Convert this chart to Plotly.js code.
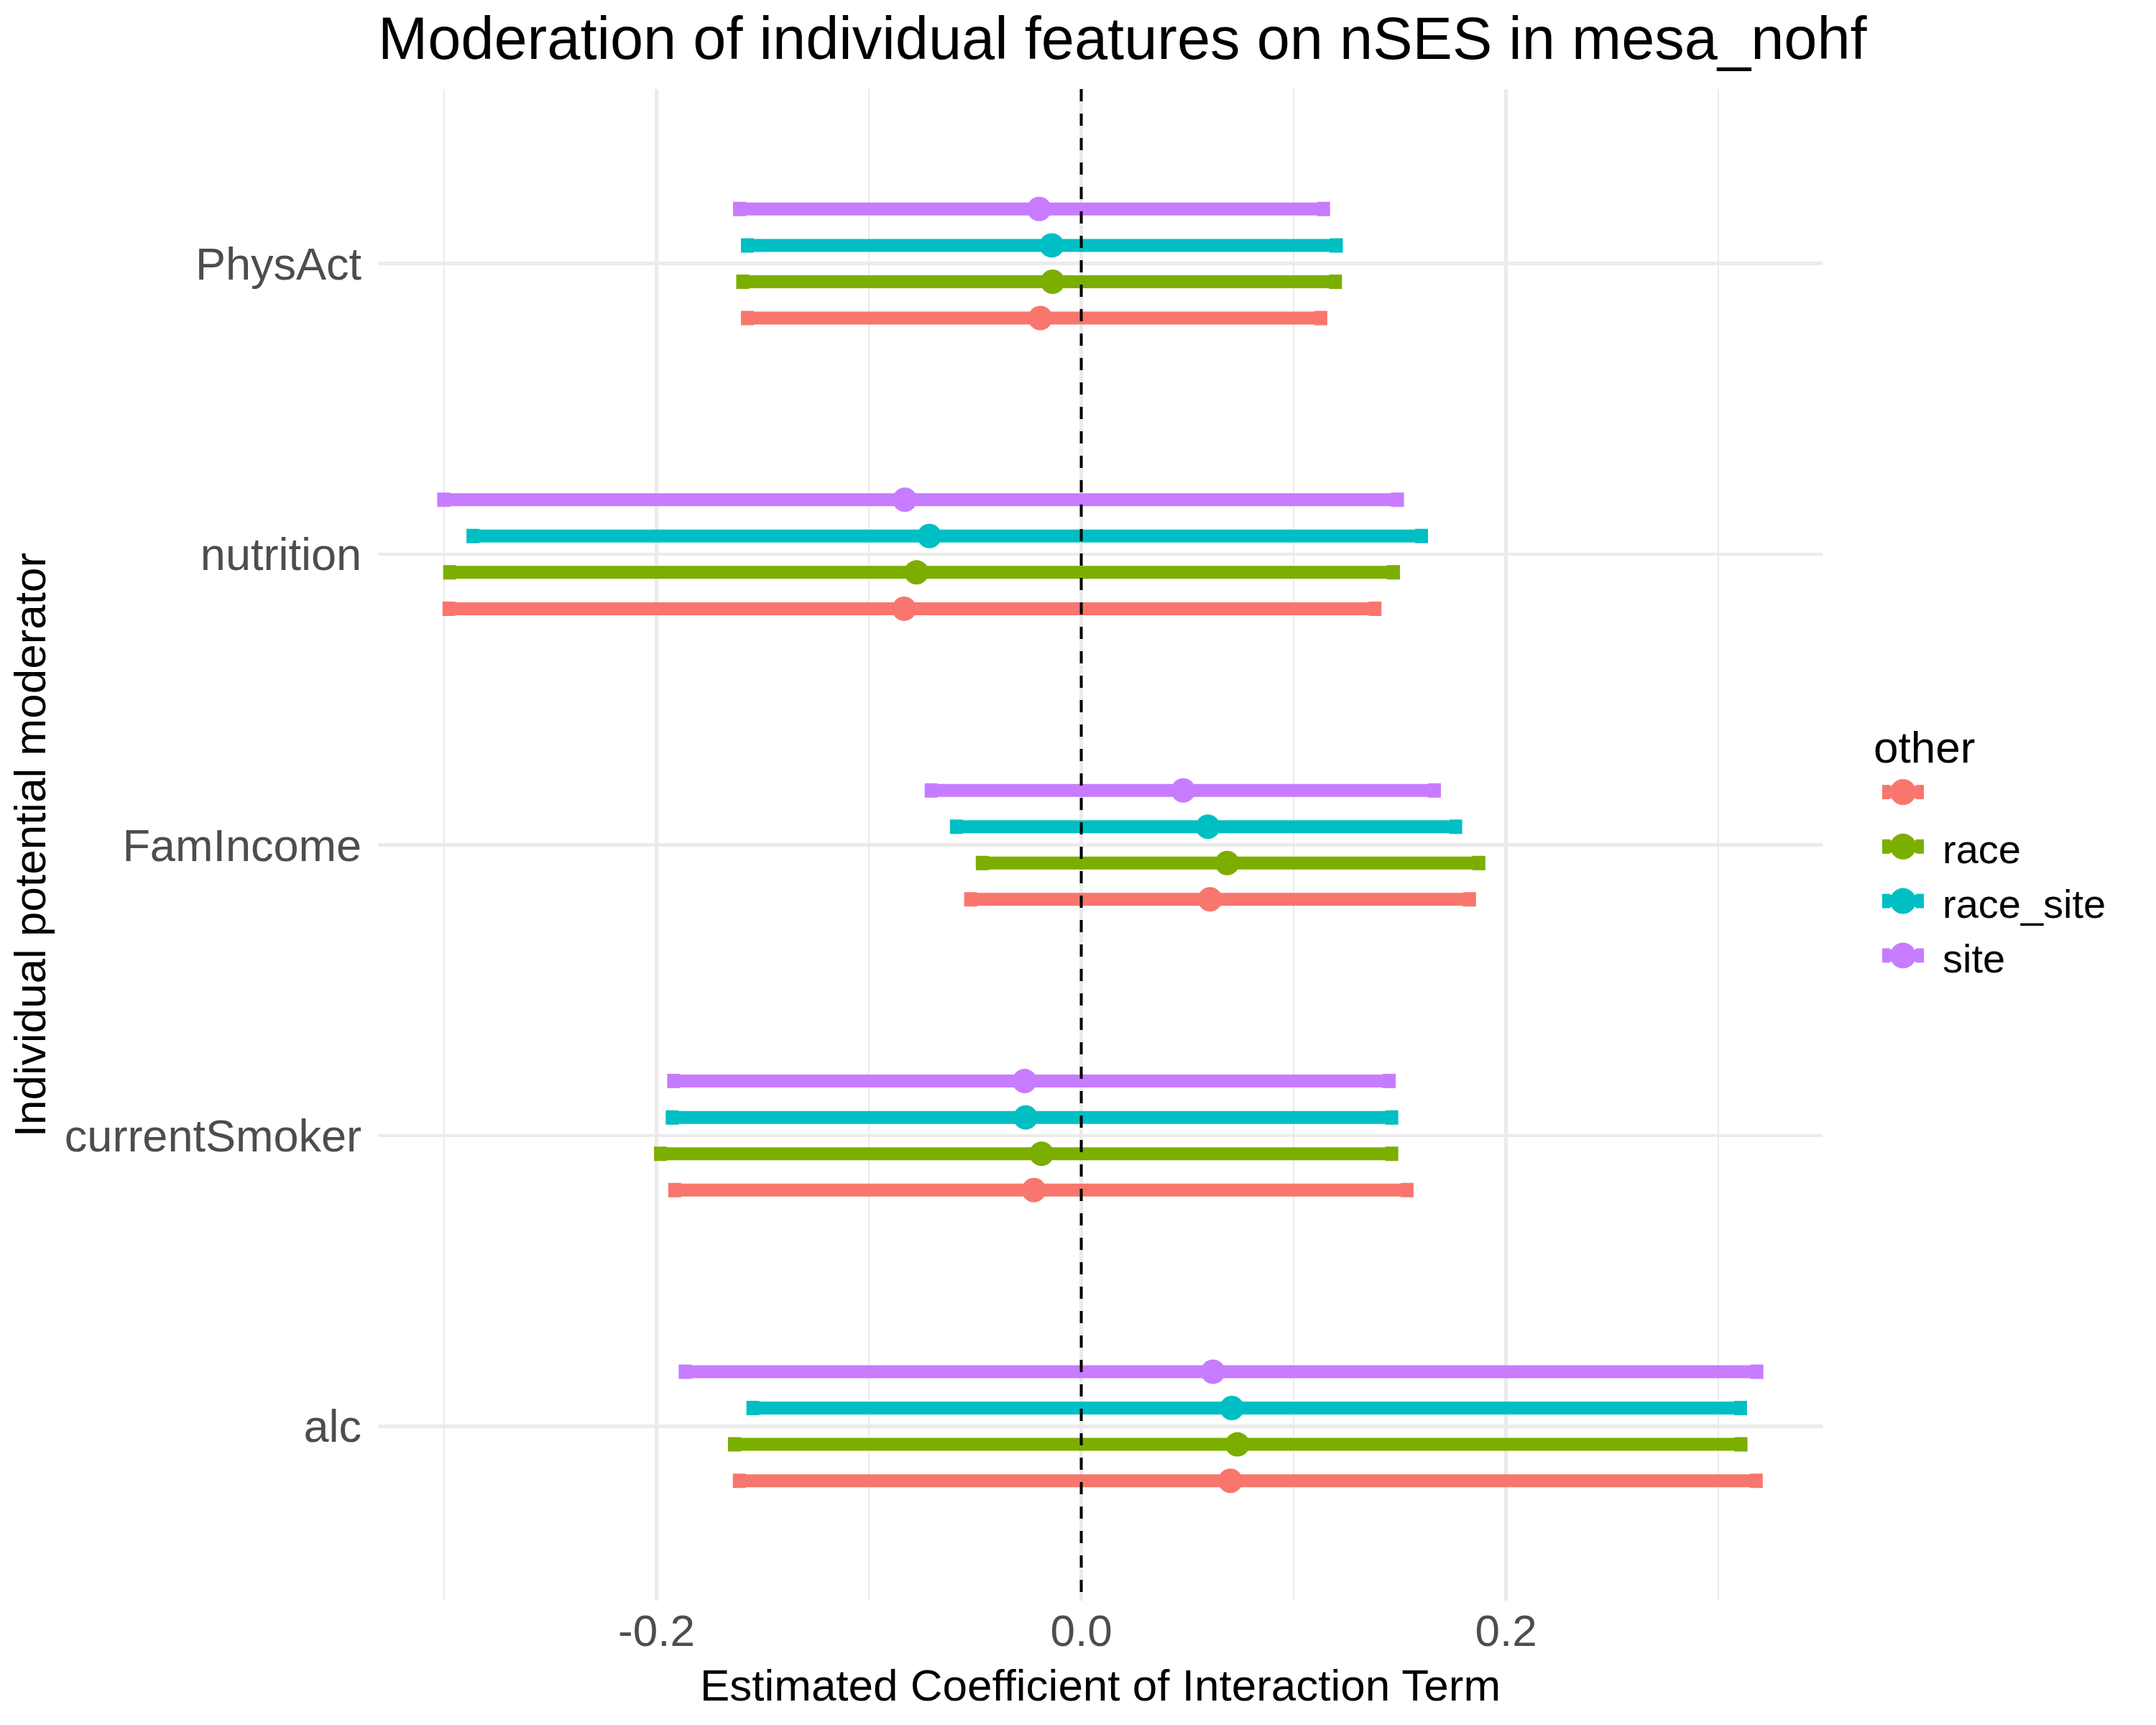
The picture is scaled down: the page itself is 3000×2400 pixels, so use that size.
<!DOCTYPE html>
<html>
<head>
<meta charset="utf-8">
<script src="https://cdn.plot.ly/plotly-3.0.1.min.js"></script>
<style>html,body{margin:0;padding:0;background:#fff;}</style>
</head>
<body>
<div id="chart" style="width:3000px;height:2400px;"></div>
<script>
// Categories (bottom to top on the y axis)
const categories = ['alc', 'currentSmoker', 'FamIncome', 'nutrition', 'PhysAct'];
// Groups of the "other" adjustment
const groups = ['', 'race', 'race_site', 'site'];
const groupColors = ['#F8766D', '#7CAE00', '#00BFC4', '#C77CFF'];

// Estimates and CI bounds, in category order
const estBlank = [0.0702, -0.0223, 0.0606, -0.0834, -0.0193];
const loBlank  = [-0.1610, -0.1914, -0.0521, -0.2977, -0.1572];
const hiBlank  = [0.3178, 0.1534, 0.1828, 0.1383, 0.1128];

const estRace = [0.0735, -0.0187, 0.0687, -0.0776, -0.0135];
const loRace  = [-0.1633, -0.1981, -0.0466, -0.2974, -0.1594];
const hiRace  = [0.3106, 0.1462, 0.1872, 0.1470, 0.1197];

const estRaceSite = [0.0709, -0.0262, 0.0596, -0.0715, -0.0139];
const loRaceSite  = [-0.1546, -0.1926, -0.0588, -0.2864, -0.1572];
const hiRaceSite  = [0.3104, 0.1462, 0.1763, 0.1602, 0.1201];

const estSite = [0.0620, -0.0267, 0.0480, -0.0831, -0.0198];
const loSite  = [-0.1865, -0.1919, -0.0707, -0.3002, -0.1609];
const hiSite  = [0.3181, 0.1450, 0.1663, 0.1489, 0.1141];

const xTickVals = [-0.2, 0.0, 0.2];
const xTickText = ['-0.2', '0.0', '0.2'];

const estimates = [estBlank, estRace, estRaceSite, estSite];
const lows = [loBlank, loRace, loRaceSite, loSite];
const highs = [hiBlank, hiRace, hiRaceSite, hiSite];

const dodgeWidth = 0.5;
const nG = groups.length;
const catPos = categories.map((c, i) => i + 1);

const traces = [];
groups.forEach((g, gi) => {
  const off = (gi - (nG - 1) / 2) * dodgeWidth / nG;
  const est = estimates[gi];
  traces.push({
    type: 'scatter',
    mode: 'markers',
    name: g,
    showlegend: false,
    x: est,
    y: catPos.map(p => p + off),
    marker: {color: groupColors[gi], size: 34, line: {width: 0}},
    error_x: {
      type: 'data', symmetric: false,
      array: est.map((v, i) => highs[gi][i] - v),
      arrayminus: est.map((v, i) => v - lows[gi][i]),
      color: groupColors[gi], thickness: 18, width: 10
    },
    hoverinfo: 'x+y'
  });
});
// legend entries
groups.forEach((g, gi) => {
  traces.push({
    type: 'scatter', mode: 'markers', name: g,
    showlegend: true,
    x: [null], y: [null],
    marker: {color: groupColors[gi], size: 34}
  });
});

// plot area in pixels (for legend key glyphs)
const M = {l: 526, r: 464, t: 124, b: 173};
const W = 3000, H = 2400;
const pw = W - M.l - M.r, ph = H - M.t - M.b;
const px2x = px => (px - M.l) / pw;
const py2y = py => (H - M.b - py) / ph;

const legendLeft = 2605, legendTop = 980;
const keyCx = 43, rowY0 = 1102, rowStep = 75.8;

const shapes = [{
  type: 'line', layer: 'above', xref: 'x', yref: 'paper',
  x0: 0, x1: 0, y0: 1, y1: 0,
  line: {color: '#000000', width: 4, dash: '17px,17px'}
}];
groups.forEach((g, gi) => {
  const ya = py2y(rowY0 + gi * rowStep);
  const base = {layer: 'above', xref: 'paper', yref: 'paper', xsizemode: 'pixel', ysizemode: 'pixel',
    xanchor: px2x(legendLeft), yanchor: ya, fillcolor: groupColors[gi], line: {width: 0}};
  shapes.push(Object.assign({}, base, {type: 'rect', x0: keyCx - 29, x1: keyCx + 29, y0: -8.5, y1: 8.5}));
  shapes.push(Object.assign({}, base, {type: 'rect', x0: keyCx - 29, x1: keyCx - 18, y0: -10, y1: 10}));
  shapes.push(Object.assign({}, base, {type: 'rect', x0: keyCx + 18, x1: keyCx + 29, y0: -10, y1: 10}));
  shapes.push(Object.assign({}, base, {type: 'circle', x0: keyCx - 18, x1: keyCx + 18, y0: -18, y1: 18}));
});

const fontFam = 'Liberation Sans, Arial, Helvetica, sans-serif';
const layout = {
  width: W, height: H,
  paper_bgcolor: '#ffffff', plot_bgcolor: '#ffffff',
  margin: {l: M.l, r: M.r, t: M.t, b: M.b, pad: 0},
  font: {family: fontFam, size: 62, color: '#000000'},
  title: {
    text: 'Moderation of individual features on nSES in mesa_nohf',
    font: {family: fontFam, size: 83, color: '#000000'},
    xref: 'paper', x: 0, xanchor: 'left',
    yref: 'container', y: 1 - 53 / 2400, yanchor: 'middle'
  },
  xaxis: {
    range: [-0.3311, 0.3490],
    tickmode: 'array', tickvals: xTickVals, ticktext: xTickText,
    showgrid: true, gridcolor: '#EBEBEB', gridwidth: 4.7,
    minor: {dtick: 0.1, tick0: 0, showgrid: true, gridcolor: '#EBEBEB', gridwidth: 2.3, ticks: ''},
    zeroline: false, showline: false, ticks: '',
    tickfont: {family: fontFam, size: 62, color: '#4D4D4D'},
    title: {text: 'Estimated Coefficient of Interaction Term', font: {family: fontFam, size: 62, color: '#000000'}, standoff: 20},
    automargin: false
  },
  yaxis: {
    range: [0.4, 5.6],
    tickmode: 'array', tickvals: catPos, ticktext: categories,
    showgrid: true, gridcolor: '#EBEBEB', gridwidth: 4.7,
    zeroline: false, showline: false, ticks: '',
    ticklabelstandoff: 22,
    tickfont: {family: fontFam, size: 63, color: '#4D4D4D'},
    title: {text: 'Individual potential moderator', font: {family: fontFam, size: 62, color: '#000000'}, standoff: 6},
    automargin: false
  },
  legend: {
    x: px2x(legendLeft), xanchor: 'left',
    y: py2y(legendTop), yanchor: 'top',
    bgcolor: 'rgba(0,0,0,0)', borderwidth: 0,
    tracegroupgap: 0,
    title: {text: 'other', font: {family: fontFam, size: 62, color: '#000000'}},
    font: {family: fontFam, size: 56, color: '#000000'},
    itemwidth: 88
  },
  shapes: shapes,
  showlegend: true
};

Plotly.newPlot('chart', traces, layout, {staticPlot: true, displayModeBar: false});
</script>
</body>
</html>
